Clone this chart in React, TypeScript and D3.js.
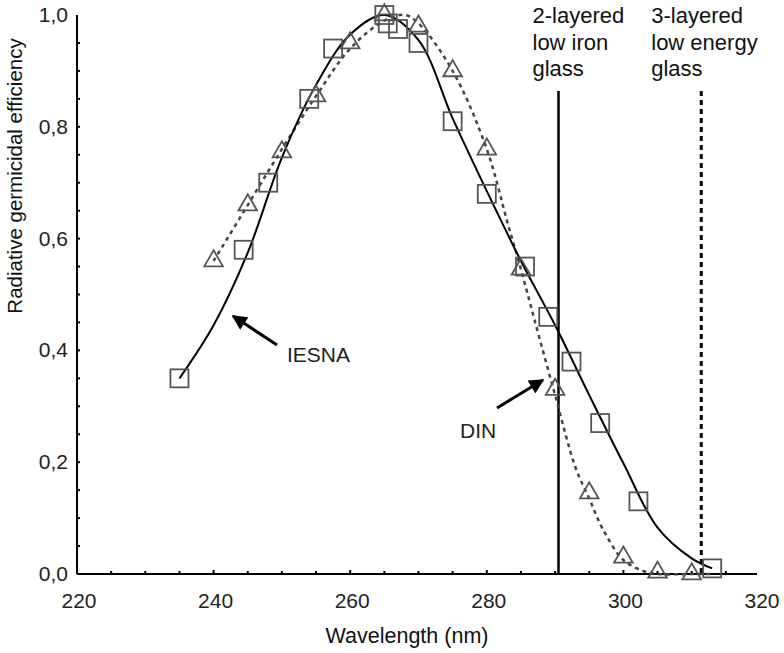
import React, { useEffect, useRef } from 'react';
import * as d3 from 'd3';

// IESNA measured points (squares)
const iesnaPoints: [number, number][] = [
  [235, 0.35], [244.4, 0.58], [248, 0.70], [254, 0.85], [257.5, 0.94],
  [265, 1.0], [265.5, 0.985], [267, 0.975], [270, 0.95], [275, 0.81],
  [280, 0.68], [285.6, 0.55], [289, 0.46], [292.4, 0.38], [296.6, 0.27],
  [302.2, 0.13], [313, 0.01]
];

// DIN measured points (triangles)
const dinPoints: [number, number][] = [
  [240, 0.56], [245, 0.66], [250, 0.755], [255, 0.855], [260, 0.95],
  [265, 1.0], [270, 0.98], [275, 0.9], [280, 0.76], [285, 0.545],
  [290, 0.33], [295, 0.145], [300, 0.03], [305, 0.003], [310, 0.0]
];

// fitted curves
const iesnaCurve: [number, number][] = [
  [235, 0.35], [240, 0.445], [245, 0.575], [250, 0.745], [255, 0.875],
  [260, 0.965], [265, 1.0], [270, 0.955], [275, 0.815], [280, 0.685],
  [285, 0.56], [290, 0.445], [295, 0.32], [300, 0.198], [305, 0.083],
  [310, 0.028], [313, 0.01]
];

const dinCurve: [number, number][] = [
  [240, 0.56], [245, 0.66], [250, 0.76], [255, 0.855], [260, 0.94],
  [265, 0.99], [268, 1.0], [270, 0.985], [275, 0.9], [280, 0.76],
  [283, 0.63], [285, 0.545], [287, 0.454], [290, 0.32], [293, 0.19],
  [295, 0.135], [297, 0.08], [300, 0.025], [303, 0.005], [305, 0.0],
  [310, 0.0], [313, 0.0]
];

const xTicks = [220, 240, 260, 280, 300, 320];
const yTicks = [0, 0.2, 0.4, 0.6, 0.8, 1.0];

// glass cut-off wavelengths
const cutoffs = [
  { nm: 290.5, lines: ['2-layered', 'low iron', 'glass'], dashed: false },
  { nm: 311.4, lines: ['3-layered', 'low energy', 'glass'], dashed: true }
];

const FONT = '"Liberation Sans", Arial, sans-serif';

const App = () => {
  const ref = useRef<SVGSVGElement | null>(null);

  useEffect(() => {
    const svg = d3.select(ref.current);
    svg.selectAll('*').remove();

    const x = d3.scaleLinear().domain([220, 320]).range([77, 760]);
    const y = d3.scaleLinear().domain([0, 1]).range([574, 15]);

    const defs = svg.append('defs');
    defs.append('marker')
      .attr('id', 'arrowhead')
      .attr('viewBox', '0 0 10 10')
      .attr('refX', 9).attr('refY', 5)
      .attr('markerWidth', 5.5).attr('markerHeight', 5)
      .attr('markerUnits', 'strokeWidth')
      .attr('orient', 'auto')
      .append('path')
      .attr('d', 'M0,0 L10,5 L0,10 Z')
      .attr('fill', '#000');

    // axes
    svg.append('line')
      .attr('x1', x(220)).attr('x2', x(320) - 3)
      .attr('y1', y(0)).attr('y2', y(0))
      .attr('stroke', '#000').attr('stroke-width', 2);
    svg.append('line')
      .attr('x1', x(220)).attr('x2', x(220))
      .attr('y1', y(0)).attr('y2', y(1))
      .attr('stroke', '#000').attr('stroke-width', 2);

    // x ticks every 5 nm, pointing inward
    svg.append('g').selectAll('line')
      .data(d3.range(225, 320, 5))
      .enter().append('line')
      .attr('x1', d => x(d)).attr('x2', d => x(d))
      .attr('y1', y(0)).attr('y2', d => y(0) - (d % 20 === 0 ? 4 : 3))
      .attr('stroke', '#000').attr('stroke-width', 2);

    svg.append('g').selectAll('line')
      .data(d3.range(0.05, 1.0, 0.05))
      .enter().append('line')
      .attr('x1', x(220)).attr('x2', x(220) + 3)
      .attr('y1', d => y(d)).attr('y2', d => y(d))
      .attr('stroke', '#000').attr('stroke-width', 2);

    svg.append('g').selectAll('text')
      .data(xTicks)
      .enter().append('text')
      .attr('x', d => x(d) + 2).attr('y', 608)
      .attr('text-anchor', 'middle')
      .attr('font-family', FONT).attr('font-size', 21)
      .attr('fill', '#222')
      .text(d => d);

    svg.append('g').selectAll('text')
      .data(yTicks)
      .enter().append('text')
      .attr('x', 68).attr('y', d => y(d) + 7)
      .attr('text-anchor', 'end')
      .attr('font-family', FONT).attr('font-size', 21)
      .attr('fill', '#222')
      .text(d => d3.format('.1f')(d).replace('.', ','));

    svg.append('text')
      .attr('x', 407).attr('y', 643)
      .attr('text-anchor', 'middle')
      .attr('font-family', FONT).attr('font-size', 21.5)
      .attr('fill', '#111')
      .text('Wavelength (nm)');

    svg.append('text')
      .attr('transform', 'translate(22,176) rotate(-90)')
      .attr('text-anchor', 'middle')
      .attr('font-family', FONT).attr('font-size', 20.5)
      .attr('fill', '#111')
      .text('Radiative germicidal efficiency');

    // cut-off lines and labels (label left offsets differ per line)
    const labelDx = [-26, -50];
    cutoffs.forEach((c, k) => {
      svg.append('line')
        .attr('x1', x(c.nm)).attr('x2', x(c.nm))
        .attr('y1', 91).attr('y2', y(0))
        .attr('stroke', '#000')
        .attr('stroke-width', c.dashed ? 3 : 2.5)
        .attr('stroke-dasharray', c.dashed ? '5,4' : null);
      const t = svg.append('text')
        .attr('font-family', FONT).attr('font-size', 22)
        .attr('fill', '#111');
      c.lines.forEach((l, i) => {
        t.append('tspan')
          .attr('x', x(c.nm) + labelDx[k]).attr('y', 23 + i * 26.5)
          .text(l);
      });
    });

    const line = d3.line<[number, number]>()
      .x(d => x(d[0])).y(d => y(d[1]))
      .curve(d3.curveCatmullRom);

    svg.append('path')
      .attr('d', line(dinCurve))
      .attr('fill', 'none')
      .attr('stroke', '#444')
      .attr('stroke-width', 2.5)
      .attr('stroke-dasharray', '4,4');

    svg.append('path')
      .attr('d', line(iesnaCurve))
      .attr('fill', 'none')
      .attr('stroke', '#000')
      .attr('stroke-width', 2);

    // squares
    const s = 18;
    svg.append('g').selectAll('rect')
      .data(iesnaPoints)
      .enter().append('rect')
      .attr('x', d => x(d[0]) - s / 2).attr('y', d => y(d[1]) - s / 2)
      .attr('width', s).attr('height', s)
      .attr('fill', 'none')
      .attr('stroke', '#555').attr('stroke-width', 1.8);

    // triangles
    const tri = d3.symbol().type(d3.symbolTriangle).size(150);
    svg.append('g').selectAll('path')
      .data(dinPoints)
      .enter().append('path')
      .attr('d', tri)
      .attr('transform', d => `translate(${x(d[0])},${y(d[1])})`)
      .attr('fill', 'none')
      .attr('stroke', '#555').attr('stroke-width', 1.8);

    // annotation arrows
    svg.append('line')
      .attr('x1', 277).attr('y1', 345).attr('x2', 233).attr('y2', 316)
      .attr('stroke', '#000').attr('stroke-width', 3)
      .attr('marker-end', 'url(#arrowhead)');
    svg.append('text')
      .attr('x', 287).attr('y', 362)
      .attr('font-family', FONT).attr('font-size', 21)
      .attr('fill', '#222')
      .text('IESNA');

    svg.append('line')
      .attr('x1', 497).attr('y1', 408).attr('x2', 543).attr('y2', 380)
      .attr('stroke', '#000').attr('stroke-width', 3)
      .attr('marker-end', 'url(#arrowhead)');
    svg.append('text')
      .attr('x', 460).attr('y', 438)
      .attr('font-family', FONT).attr('font-size', 21)
      .attr('fill', '#222')
      .text('DIN');
  }, []);

  return (
    <svg
      ref={ref}
      width={784}
      height={653}
      style={{ position: 'absolute', left: 0, top: 0, background: 'white' }}
    />
  );
};

export default App;
